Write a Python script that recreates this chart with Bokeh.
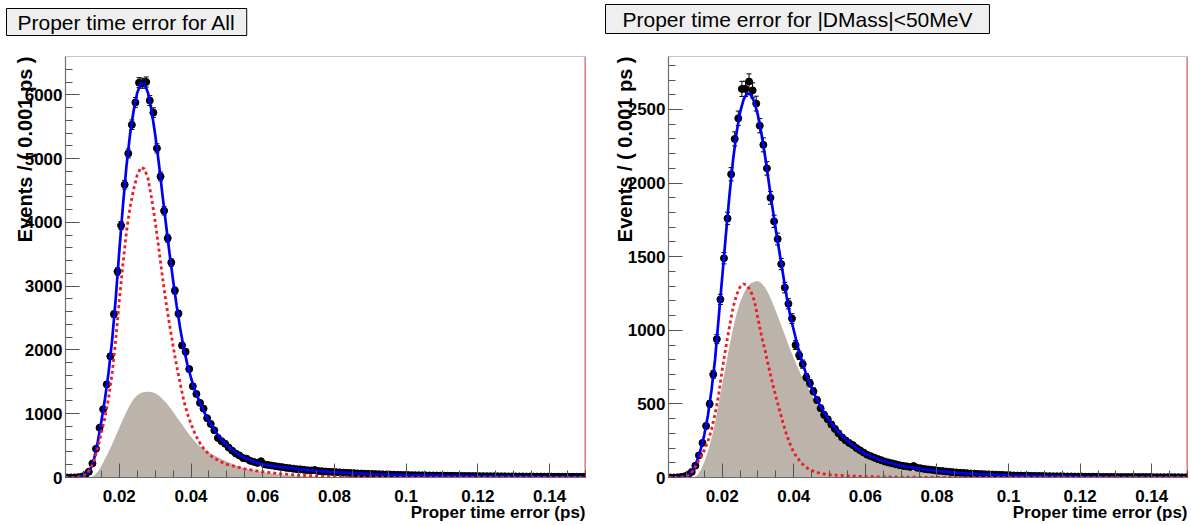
import numpy as np
from bokeh.plotting import figure
from bokeh.models import (ColumnDataSource, FixedTicker, Span, Whisker, TeeHead,
                          Range1d, PrintfTickFormatter, Title)
from bokeh.layouts import row
from bokeh.embed import file_html
from bokeh.resources import INLINE

# ---------------- binning / text ----------------
BIN_LOW = 0.005
BIN_WIDTH = 0.001
X_RANGE = (0.005, 0.15)
X_TICKS = [0.02, 0.04, 0.06, 0.08, 0.1, 0.12, 0.14]

TITLE_ALL = "Proper time error for All"
TITLE_CUT = "Proper time error for |DMass|<50MeV"
X_LABEL = "Proper time error (ps)"
Y_LABEL = "Events / ( 0.001 ps )"

# ---------------- left panel: all events ----------------
all_counts = [
    0, 0, 1, 4, 12, 35, 90, 220, 450, 780,
    1070, 1460, 1900, 2560, 3230, 3950, 4590, 5080, 5530, 5880,
    6190, 6180, 6200, 5910, 5720, 5160, 4720, 4180, 3750, 3370,
    2930, 2570, 2070, 1970, 1700, 1430, 1310, 1170, 1080, 930,
    840, 740, 620, 570, 530, 470, 420, 375, 345, 305,
    295, 262, 245, 228, 255, 205, 196, 188, 178, 170,
    162, 152, 146, 138, 131, 128, 120, 114, 110, 118,
    103, 98, 93, 89, 86, 84, 80, 76, 73, 70,
    67, 64, 62, 59, 57, 55, 53, 51, 49, 47,
    46, 44, 42, 41, 39, 38, 37, 36, 35, 34,
    33, 32, 31, 30, 29, 28, 27, 27, 26, 25,
    24, 24, 23, 22, 22, 21, 21, 20, 20, 19,
    19, 18, 18, 17, 17, 16, 16, 16, 15, 15,
    14, 14, 14, 13, 13, 13, 12, 12, 12, 11,
    11, 11, 11, 10, 10]

all_total_x = [0.005, 0.008, 0.010, 0.011, 0.012, 0.013, 0.014, 0.015, 0.016, 0.017,
               0.018, 0.019, 0.020, 0.021, 0.022, 0.023, 0.024, 0.025, 0.026, 0.027,
               0.028, 0.029, 0.030, 0.031, 0.032, 0.033, 0.034, 0.035, 0.036, 0.037,
               0.038, 0.039, 0.040, 0.041, 0.042, 0.043, 0.044, 0.045, 0.046, 0.047,
               0.048, 0.050, 0.052, 0.054, 0.056, 0.058, 0.060, 0.065, 0.070, 0.075,
               0.080, 0.085, 0.090, 0.100, 0.110, 0.120, 0.130, 0.140, 0.150]
all_total_y = [0, 3, 25, 60, 140, 300, 560, 880, 1230, 1640,
               2150, 2800, 3550, 4250, 4880, 5380, 5750, 6030, 6180, 6180,
               6030, 5750, 5380, 4940, 4450, 3980, 3520, 3090, 2690, 2330,
               2020, 1770, 1560, 1380, 1240, 1110, 990, 885, 790, 705,
               630, 505, 405, 335, 280, 238, 205, 165, 130, 105,
               85, 68, 55, 38, 28, 21, 16, 12, 10]

all_sig_x = [0.005, 0.008, 0.010, 0.011, 0.012, 0.013, 0.014, 0.015, 0.016, 0.017,
             0.018, 0.019, 0.020, 0.021, 0.022, 0.023, 0.024, 0.025, 0.026, 0.027,
             0.028, 0.029, 0.030, 0.031, 0.032, 0.033, 0.034, 0.035, 0.036, 0.037,
             0.038, 0.039, 0.040, 0.041, 0.042, 0.043, 0.044, 0.046, 0.048, 0.050,
             0.055, 0.060, 0.065, 0.070, 0.075, 0.080, 0.090, 0.100, 0.110, 0.150]
all_sig_y = [0, 2, 25, 60, 140, 270, 470, 700, 940, 1240,
             1630, 2150, 2770, 3340, 3850, 4240, 4520, 4740, 4860, 4840,
             4690, 4380, 4020, 3600, 3160, 2760, 2400, 2060, 1750, 1470,
             1200, 1000, 840, 700, 585, 495, 420, 320, 255, 205,
             135, 90, 58, 37, 23, 14, 5, 2, 0.5, 0]

all_bkg_x = [0.005, 0.012, 0.013, 0.014, 0.015, 0.016, 0.017, 0.018, 0.019, 0.020,
             0.021, 0.022, 0.023, 0.024, 0.025, 0.026, 0.027, 0.028, 0.029, 0.030,
             0.031, 0.032, 0.033, 0.034, 0.035, 0.036, 0.037, 0.038, 0.039, 0.040,
             0.042, 0.044, 0.046, 0.048, 0.050, 0.052, 0.055, 0.060, 0.065, 0.070,
             0.075, 0.080, 0.090, 0.150]
all_bkg_y = [0, 0, 30, 90, 180, 290, 400, 520, 650, 780,
             910, 1030, 1140, 1230, 1290, 1325, 1342, 1345, 1340, 1320,
             1285, 1235, 1175, 1105, 1030, 950, 870, 790, 710, 640,
             510, 430, 360, 300, 250, 200, 140, 85, 45, 22,
             10, 4, 1, 0]

# ---------------- right panel: |DMass| < 50 MeV ----------------
cut_counts = [
    0, 0, 1, 3, 8, 18, 38, 80, 150, 235,
    350, 500, 700, 940, 1210, 1490, 1760, 2060, 2300, 2440,
    2640, 2640, 2690, 2630, 2540, 2390, 2260, 2100, 1900, 1740,
    1620, 1450, 1290, 1180, 1080, 900, 830, 770, 680, 640,
    585, 525, 470, 425, 395, 360, 330, 300, 272, 252,
    235, 220, 200, 185, 170, 155, 145, 135, 125, 117,
    108, 102, 96, 90, 84, 79, 76, 72, 78, 66,
    62, 58, 55, 52, 49, 46, 44, 41, 39, 36,
    34, 32, 31, 29, 27, 26, 24, 23, 22, 21,
    20, 19, 18, 17, 16, 15, 14, 13, 13, 12,
    12, 11, 11, 10, 10, 9, 9, 8, 8, 8,
    7, 7, 7, 6, 6, 6, 5, 5, 5, 5,
    4, 4, 4, 4, 4, 3, 3, 3, 3, 3,
    3, 3, 3, 3, 3, 2, 2, 2, 2, 2,
    2, 2, 2, 1, 1]

cut_total_x = [0.005, 0.008, 0.009, 0.010, 0.011, 0.012, 0.013, 0.014, 0.015, 0.016,
               0.017, 0.018, 0.019, 0.020, 0.021, 0.022, 0.023, 0.024, 0.025, 0.026,
               0.027, 0.028, 0.029, 0.030, 0.031, 0.032, 0.033, 0.034, 0.035, 0.036,
               0.037, 0.038, 0.039, 0.040, 0.041, 0.042, 0.043, 0.044, 0.045, 0.046,
               0.047, 0.048, 0.050, 0.052, 0.054, 0.056, 0.058, 0.060, 0.065, 0.070,
               0.075, 0.080, 0.085, 0.090, 0.100, 0.110, 0.120, 0.130, 0.140, 0.150]
cut_total_y = [0, 2, 5, 10, 25, 60, 115, 190, 290, 420,
               590, 800, 1080, 1360, 1640, 1910, 2150, 2340, 2480, 2570,
               2610, 2600, 2550, 2460, 2330, 2180, 2010, 1840, 1680, 1530,
               1380, 1230, 1100, 1000, 900, 815, 735, 670, 610, 555,
               505, 460, 385, 322, 270, 228, 192, 160, 112, 80,
               60, 45, 33, 25, 14, 9, 5.5, 3.5, 2.5, 1.5]

cut_sig_x = [0.005, 0.009, 0.010, 0.011, 0.012, 0.013, 0.014, 0.015, 0.016, 0.017,
             0.018, 0.019, 0.020, 0.021, 0.022, 0.023, 0.024, 0.025, 0.026, 0.027,
             0.028, 0.029, 0.030, 0.031, 0.032, 0.033, 0.034, 0.035, 0.036, 0.037,
             0.038, 0.039, 0.040, 0.042, 0.044, 0.046, 0.048, 0.050, 0.055, 0.060,
             0.070, 0.080, 0.090, 0.150]
cut_sig_y = [0, 3, 8, 20, 50, 95, 140, 185, 245, 325,
             430, 560, 730, 880, 1020, 1150, 1240, 1295, 1315, 1305,
             1265, 1200, 1080, 960, 860, 750, 645, 550, 460, 370,
             290, 225, 170, 100, 60, 36, 25, 19, 11, 6,
             2, 1, 0, 0]

cut_bkg_x = [0.005, 0.012, 0.013, 0.014, 0.015, 0.016, 0.017, 0.018, 0.019, 0.020,
             0.021, 0.022, 0.023, 0.024, 0.025, 0.026, 0.027, 0.028, 0.029, 0.030,
             0.031, 0.032, 0.033, 0.034, 0.035, 0.036, 0.037, 0.038, 0.039, 0.040,
             0.042, 0.044, 0.046, 0.048, 0.050, 0.052, 0.054, 0.056, 0.058, 0.060,
             0.065, 0.070, 0.075, 0.080, 0.085, 0.090, 0.100, 0.110, 0.120, 0.150]
cut_bkg_y = [0, 0, 15, 50, 105, 175, 265, 370, 500, 630,
             760, 890, 1010, 1110, 1190, 1250, 1295, 1320, 1330, 1335,
             1320, 1290, 1245, 1190, 1130, 1065, 1000, 935, 870, 810,
             700, 610, 515, 440, 368, 310, 262, 220, 185, 155,
             100, 62, 40, 25, 15, 8, 3, 1, 0, 0]

# ---------------- style ----------------
FONT = "Liberation Sans"
GRAY_FILL = "#bcb3aa"
BLUE = "#0000f0"
RED = "#ee1c24"
FIG_H = 524
B_TOP = 56
B_BOTTOM = 47


def make_panel(title, counts, tot_x, tot_y, sig_x, sig_y, bkg_x, bkg_y,
               y_end, y_major, y_minor, width, b_left, b_right,
               title_offset, title_pad, spacer_standoff, ylab_standoff):
    counts = np.asarray(counts, dtype=float)
    centers = BIN_LOW + BIN_WIDTH * (np.arange(len(counts)) + 0.5)
    err = np.sqrt(counts)
    src = ColumnDataSource(dict(x=centers, y=counts, lo=counts - err, hi=counts + err))

    p = figure(width=width, height=FIG_H, x_range=Range1d(*X_RANGE),
               y_range=Range1d(0, y_end), output_backend="svg", toolbar_location=None,
               min_border_left=b_left, min_border_right=b_right,
               min_border_top=B_TOP, min_border_bottom=B_BOTTOM, title=title)
    p.grid.visible = False
    p.outline_line_color = None
    p.background_fill_color = "white"
    p.border_fill_color = "white"

    # components
    p.varea(x=bkg_x, y1=0, y2=bkg_y, fill_color=GRAY_FILL, fill_alpha=1.0)
    p.add_layout(Whisker(source=src, base="x", upper="hi", lower="lo",
                         line_color="black", line_width=1,
                         upper_head=TeeHead(size=5, line_color="black", line_width=1),
                         lower_head=TeeHead(size=5, line_color="black", line_width=1)))
    p.scatter(x="x", y="y", source=src, size=7, fill_color="black", line_color="black")
    p.line(tot_x, tot_y, line_color=BLUE, line_width=2.7)
    p.line(sig_x, sig_y, line_color=RED, line_width=2.8, line_dash="3 3")

    # frame edges
    p.add_layout(Span(location=y_end, dimension="width", line_color="#8c8c8c", line_width=1.2))
    p.add_layout(Span(location=X_RANGE[1], dimension="height", line_color="#c00000", line_width=1.6))

    # axes
    xa = p.xaxis[0]
    xa.ticker = FixedTicker(ticks=X_TICKS,
                            minor_ticks=[round(0.005 * k, 3) for k in range(1, 31)])
    xa.formatter = PrintfTickFormatter(format="%g")
    ya = p.yaxis[0]
    ya.ticker = FixedTicker(ticks=y_major, minor_ticks=y_minor)
    for ax in (xa, ya):
        ax.axis_line_color = "#6e6e6e"
        ax.axis_line_width = 1.2
        ax.major_tick_in = 14
        ax.major_tick_out = 0
        ax.minor_tick_in = 7
        ax.minor_tick_out = 0
        ax.major_tick_line_color = "#555555"
        ax.minor_tick_line_color = "#555555"
        ax.major_label_text_font = FONT
        ax.major_label_text_font_style = "bold"
        ax.major_label_text_font_size = "17px"
        ax.major_label_text_color = "black"
    xa.major_label_standoff = 12
    ya.major_label_standoff = 3

    # axis titles
    p.add_layout(Title(text=X_LABEL, align="right", standoff=-8,
                       text_font=FONT, text_font_style="bold", text_font_size="17px",
                       text_color="black"), "below")
    p.add_layout(Title(text=Y_LABEL, align="right", standoff=ylab_standoff,
                       text_font=FONT, text_font_style="bold", text_font_size="20px",
                       text_color="black"), "left")

    # spacer between frame and the title box
    p.add_layout(Title(text=" ", standoff=spacer_standoff, text_font_size="2px"), "above")

    # panel title box
    t = p.title
    t.align = "left"
    t.offset = title_offset
    t.standoff = 0
    t.text_font = FONT
    t.text_font_style = "normal"
    t.text_font_size = "21px"
    t.text_color = "black"
    t.background_fill_color = "#efefef"
    t.border_line_color = "black"
    t.border_line_width = 1
    t.padding = title_pad
    return p


p_all = make_panel(TITLE_ALL, all_counts, all_total_x, all_total_y, all_sig_x, all_sig_y,
                   all_bkg_x, all_bkg_y, 6600,
                   [0, 1000, 2000, 3000, 4000, 5000, 6000],
                   [200 * k for k in range(33)],
                   width=588, b_left=65, b_right=3,
                   title_offset=-59, title_pad=dict(left=11, right=11, top=2, bottom=2),
                   spacer_standoff=17, ylab_standoff=-28)

p_cut = make_panel(TITLE_CUT, cut_counts, cut_total_x, cut_total_y, cut_sig_x, cut_sig_y,
                   cut_bkg_x, cut_bkg_y, 2860,
                   [0, 500, 1000, 1500, 2000, 2500],
                   [100 * k for k in range(29)],
                   width=602, b_left=80, b_right=3,
                   title_offset=-63, title_pad=dict(left=17, right=17, top=3, bottom=3),
                   spacer_standoff=19, ylab_standoff=-22)

layout = row(p_all, p_cut)
open("out.html", "w").write(file_html(layout, INLINE, title="Proper time error"))
